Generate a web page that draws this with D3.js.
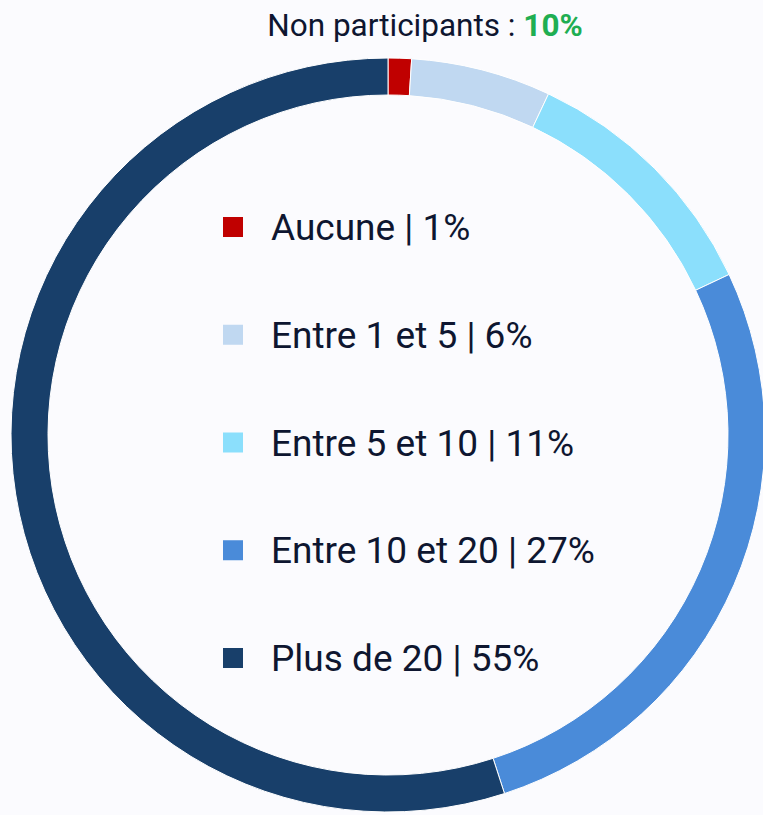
<!DOCTYPE html>
<html lang="fr">
<head>
    <meta charset="UTF-8">
    <title>Participation</title>
    <script src="https://d3js.org/d3.v7.min.js"></script>
    <style>
        html, body {margin: 0; padding: 0; background: #fbfbfe;}
        svg {display: block;}
        text {font-family: Roboto, sans-serif; fill: #0e1630;}
    </style>
</head>
<body>
<script>
    const width = 763;
    const height = 815;

    // data
    const labels = ["Aucune", "Entre 1 et 5", "Entre 5 et 10", "Entre 10 et 20", "Plus de 20"];
    const values = [1, 6, 11, 27, 55];
    const colors = ["#c00000", "#c0d8f1", "#8bdffc", "#4a8bd9", "#183f6a"];
    const titleLabel = "Non participants : ";
    const titleValue = "10%";

    const cx = 388, cy = 435;
    const outerR = 377, innerR = 340;

    const svg = d3.select("body").append("svg")
            .attr("width", width).attr("height", height);

    const pie = d3.pie().sort(null).value(d => d);
    const arc = d3.arc().innerRadius(innerR).outerRadius(outerR);

    const donut = svg.append("g")
            .attr("transform", `translate(${cx},${cy})`);

    donut.selectAll("path")
            .data(pie(values))
            .enter()
            .append("path")
            .attr("d", arc)
            .style("fill", (d, i) => colors[i])
            .style("stroke", "#ffffff")
            .style("stroke-width", 1);

    // title
    const title = svg.append("text")
            .attr("x", 425)
            .attr("y", 36)
            .attr("text-anchor", "middle")
            .style("font-size", "31.5px");
    title.append("tspan").text(titleLabel);
    title.append("tspan")
            .text(titleValue)
            .style("fill", "#1fae52")
            .style("font-weight", "bold");

    // legend
    const rowY = d3.scalePoint().domain(labels).range([227, 658]);

    const legend = svg.selectAll("g.legend")
            .data(labels)
            .enter()
            .append("g")
            .attr("class", "legend")
            .attr("transform", d => `translate(223,${rowY(d)})`);

    legend.append("rect")
            .attr("x", 0).attr("y", -10)
            .attr("width", 20).attr("height", 20)
            .style("fill", (d, i) => colors[i]);

    legend.append("text")
            .attr("x", 48)
            .attr("y", 13)
            .style("font-size", "37px")
            .text((d, i) => `${d} | ${values[i]}%`);
</script>
</body>
</html>
